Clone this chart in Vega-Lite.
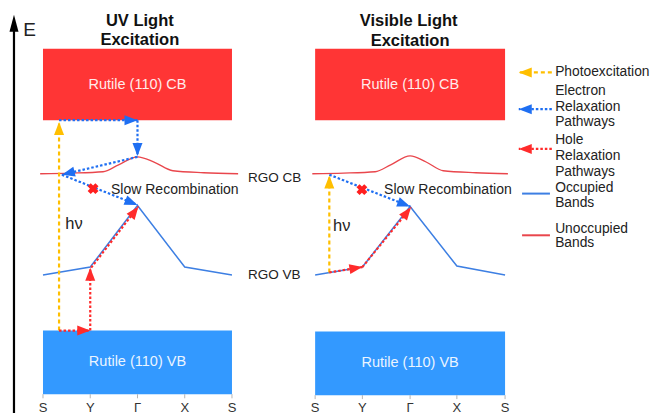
{
  "$schema": "https://vega.github.io/schema/vega-lite/v6.json",
  "width": 652,
  "height": 416,
  "autosize": {"type": "fit", "contains": "padding"},
  "padding": 0,
  "background": "white",
  "config": {"view": {"stroke": null}, "font": "Liberation Sans"},
  "datasets": {
    "bands": [
      {"band": "Rutile (110) CB", "kind": "Conduction band", "k": 0, "k2": 4, "e": 7.375, "e2": 9.175, "kc": 2, "ec": 8.25},
      {"band": "Rutile (110) VB", "kind": "Valence band", "k": 0, "k2": 4, "e": 0.475, "e2": 2.075, "kc": 2, "ec": 1.28},
      {"band": "Rutile (110) CB", "kind": "Conduction band", "k": 5.76, "k2": 9.78, "e": 7.375, "e2": 9.175, "kc": 7.77, "ec": 8.25},
      {"band": "Rutile (110) VB", "kind": "Valence band", "k": 5.76, "k2": 9.78, "e": 0.45, "e2": 2.05, "kc": 7.77, "ec": 1.26}
    ],
    "rgo": [
      {"curve": "CB UV", "kind": "Unoccupied", "k": -0.06, "e": 6.025},
      {"curve": "CB UV", "kind": "Unoccupied", "k": 0.6, "e": 6.04},
      {"curve": "CB UV", "kind": "Unoccupied", "k": 1.27, "e": 6.075},
      {"curve": "CB UV", "kind": "Unoccupied", "k": 1.6, "e": 6.25},
      {"curve": "CB UV", "kind": "Unoccupied", "k": 2.0, "e": 6.45},
      {"curve": "CB UV", "kind": "Unoccupied", "k": 2.35, "e": 6.32},
      {"curve": "CB UV", "kind": "Unoccupied", "k": 2.75, "e": 6.1},
      {"curve": "CB UV", "kind": "Unoccupied", "k": 3.4, "e": 6.05},
      {"curve": "CB UV", "kind": "Unoccupied", "k": 4.13, "e": 6.025},
      {"curve": "CB Vis", "kind": "Unoccupied", "k": 5.7, "e": 6.025},
      {"curve": "CB Vis", "kind": "Unoccupied", "k": 6.36, "e": 6.04},
      {"curve": "CB Vis", "kind": "Unoccupied", "k": 7.03, "e": 6.075},
      {"curve": "CB Vis", "kind": "Unoccupied", "k": 7.36, "e": 6.25},
      {"curve": "CB Vis", "kind": "Unoccupied", "k": 7.77, "e": 6.475},
      {"curve": "CB Vis", "kind": "Unoccupied", "k": 8.11, "e": 6.32},
      {"curve": "CB Vis", "kind": "Unoccupied", "k": 8.47, "e": 6.1},
      {"curve": "CB Vis", "kind": "Unoccupied", "k": 9.16, "e": 6.05},
      {"curve": "CB Vis", "kind": "Unoccupied", "k": 9.84, "e": 6.025},
      {"curve": "VB UV", "kind": "Occupied", "k": 0, "e": 3.475},
      {"curve": "VB UV", "kind": "Occupied", "k": 1, "e": 3.675},
      {"curve": "VB UV", "kind": "Occupied", "k": 2, "e": 5.225},
      {"curve": "VB UV", "kind": "Occupied", "k": 3, "e": 3.675},
      {"curve": "VB UV", "kind": "Occupied", "k": 4, "e": 3.475},
      {"curve": "VB Vis", "kind": "Occupied", "k": 5.76, "e": 3.475},
      {"curve": "VB Vis", "kind": "Occupied", "k": 6.76, "e": 3.675},
      {"curve": "VB Vis", "kind": "Occupied", "k": 7.77, "e": 5.2},
      {"curve": "VB Vis", "kind": "Occupied", "k": 8.76, "e": 3.7},
      {"curve": "VB Vis", "kind": "Occupied", "k": 9.78, "e": 3.475}
    ],
    "pathways": [
      {"panel": "UV", "path": "Photoexcitation", "k": 0.34, "e": 2.075, "k2": 0.34, "e2": 7.33, "heading": 0},
      {"panel": "UV", "path": "Electron relaxation", "k": 0.34, "e": 7.375, "k2": 2.0, "e2": 7.375, "heading": 90},
      {"panel": "UV", "path": "Electron relaxation", "k": 2.0, "e": 7.375, "k2": 2.0, "e2": 6.47, "heading": 180},
      {"panel": "UV", "path": "Electron relaxation", "k": 2.0, "e": 6.45, "k2": 0.4, "e2": 6.0, "heading": 256},
      {"panel": "UV", "path": "Electron relaxation", "k": 0.4, "e": 6.0, "k2": 2.0, "e2": 5.24, "heading": 112},
      {"panel": "UV", "path": "Hole relaxation", "k": 0.34, "e": 2.075, "k2": 1.0, "e2": 2.075, "heading": 90},
      {"panel": "UV", "path": "Hole relaxation", "k": 1.0, "e": 2.075, "k2": 1.0, "e2": 3.66, "heading": 0},
      {"panel": "UV", "path": "Hole relaxation", "k": 1.02, "e": 3.66, "k2": 2.02, "e2": 5.2, "heading": 37},
      {"panel": "Visible", "path": "Photoexcitation", "k": 6.06, "e": 3.54, "k2": 6.06, "e2": 5.98, "heading": 0},
      {"panel": "Visible", "path": "Electron relaxation", "k": 6.06, "e": 6.0, "k2": 7.77, "e2": 5.2, "heading": 111},
      {"panel": "Visible", "path": "Hole relaxation", "k": 6.06, "e": 3.54, "k2": 6.76, "e2": 3.675, "heading": 81},
      {"panel": "Visible", "path": "Hole relaxation", "k": 6.76, "e": 3.675, "k2": 7.79, "e2": 5.18, "heading": 38},
      {"panel": "key", "path": "Photoexcitation", "k": 10.77, "e": 8.575, "k2": 10.07, "e2": 8.575, "heading": 270},
      {"panel": "key", "path": "Electron relaxation", "k": 10.77, "e": 7.65, "k2": 10.07, "e2": 7.65, "heading": 270},
      {"panel": "key", "path": "Hole relaxation", "k": 10.77, "e": 6.65, "k2": 10.07, "e2": 6.65, "heading": 270}
    ],
    "keyLines": [
      {"kind": "Occupied", "k": 10.14, "k2": 10.73, "e": 5.525},
      {"kind": "Unoccupied", "k": 10.14, "k2": 10.73, "e": 4.475}
    ],
    "blocked": [
      {"k": 1.06, "e": 5.65},
      {"k": 6.75, "e": 5.625}
    ],
    "energyAxis": [
      {"k": -0.614, "e": 0, "e2": 9.7, "tip": 10.03}
    ],
    "kpoints": [
      {"label": "S", "k": 0, "e": 0.475, "e2": 0.37, "eLabel": 0.27},
      {"label": "Y", "k": 1, "e": 0.475, "e2": 0.37, "eLabel": 0.27},
      {"label": "Γ", "k": 2, "e": 0.475, "e2": 0.37, "eLabel": 0.27},
      {"label": "X", "k": 3, "e": 0.475, "e2": 0.37, "eLabel": 0.27},
      {"label": "S", "k": 4, "e": 0.475, "e2": 0.37, "eLabel": 0.27},
      {"label": "S", "k": 5.76, "e": 0.45, "e2": 0.35, "eLabel": 0.27},
      {"label": "Y", "k": 6.76, "e": 0.45, "e2": 0.35, "eLabel": 0.27},
      {"label": "Γ", "k": 7.77, "e": 0.45, "e2": 0.35, "eLabel": 0.27},
      {"label": "X", "k": 8.76, "e": 0.45, "e2": 0.35, "eLabel": 0.27},
      {"label": "S", "k": 9.78, "e": 0.45, "e2": 0.35, "eLabel": 0.27}
    ],
    "titles": [
      {"text": "UV Light", "k": 2.05, "e": 9.875},
      {"text": "Excitation", "k": 2.05, "e": 9.4},
      {"text": "Visible Light", "k": 7.74, "e": 9.86},
      {"text": "Excitation", "k": 7.77, "e": 9.375}
    ],
    "notes": [
      {"text": "E", "role": "axis", "k": -0.42, "e": 9.65},
      {"text": "Slow Recombination", "role": "note", "k": 1.44, "e": 5.61},
      {"text": "Slow Recombination", "role": "note", "k": 7.22, "e": 5.61},
      {"text": "hν", "role": "photon", "k": 0.47, "e": 4.75},
      {"text": "hν", "role": "photon", "k": 6.14, "e": 4.7},
      {"text": "RGO CB", "role": "level", "k": 4.34, "e": 5.92},
      {"text": "RGO VB", "role": "level", "k": 4.34, "e": 3.47},
      {"text": "Photoexcitation", "role": "key", "k": 10.84, "e": 8.575},
      {"text": "Electron", "role": "key", "k": 10.84, "e": 8.1},
      {"text": "Relaxation", "role": "key", "k": 10.84, "e": 7.7},
      {"text": "Pathways", "role": "key", "k": 10.84, "e": 7.325},
      {"text": "Hole", "role": "key", "k": 10.84, "e": 6.875},
      {"text": "Relaxation", "role": "key", "k": 10.84, "e": 6.475},
      {"text": "Pathways", "role": "key", "k": 10.84, "e": 6.075},
      {"text": "Occupied", "role": "key", "k": 10.84, "e": 5.675},
      {"text": "Bands", "role": "key", "k": 10.84, "e": 5.3},
      {"text": "Unoccupied", "role": "key", "k": 10.84, "e": 4.625},
      {"text": "Bands", "role": "key", "k": 10.84, "e": 4.275}
    ]
  },
  "encoding": {
    "x": {"field": "k", "type": "quantitative", "scale": {"domain": [-0.91, 12.89], "nice": false, "zero": false}, "axis": null},
    "y": {"field": "e", "type": "quantitative", "scale": {"domain": [0, 10.4], "nice": false, "zero": false}, "axis": null}
  },
  "layer": [
    {
      "data": {"name": "bands"},
      "mark": {"type": "rect"},
      "encoding": {
        "x2": {"field": "k2"},
        "y2": {"field": "e2"},
        "color": {"field": "kind", "type": "nominal", "legend": null,
          "scale": {"domain": ["Conduction band", "Valence band", "Unoccupied", "Occupied", "Photoexcitation", "Electron relaxation", "Hole relaxation"],
                    "range": ["#ff3535", "#3399ff", "#e9464c", "#3d7fe3", "#ffbf00", "#1f6ff2", "#ff2b2b"]}}
      }
    },
    {
      "data": {"name": "bands"},
      "mark": {"type": "text", "fontSize": 14.5, "color": "white", "opacity": 0.9, "align": "center", "baseline": "middle"},
      "encoding": {
        "x": {"field": "kc", "type": "quantitative"},
        "y": {"field": "ec", "type": "quantitative"},
        "text": {"field": "band"}
      }
    },
    {
      "data": {"name": "rgo"},
      "transform": [{"filter": "datum.kind === 'Unoccupied'"}],
      "mark": {"type": "line", "interpolate": "monotone", "strokeWidth": 1.3},
      "encoding": {
        "detail": {"field": "curve"},
        "color": {"field": "kind", "type": "nominal", "legend": null}
      }
    },
    {
      "data": {"name": "rgo"},
      "transform": [{"filter": "datum.kind === 'Occupied'"}],
      "mark": {"type": "line", "strokeWidth": 1.5},
      "encoding": {
        "detail": {"field": "curve"},
        "color": {"field": "kind", "type": "nominal", "legend": null}
      }
    },
    {
      "data": {"name": "keyLines"},
      "mark": {"type": "rule", "strokeWidth": 2},
      "encoding": {
        "x2": {"field": "k2"},
        "color": {"field": "kind", "type": "nominal", "legend": null}
      }
    },
    {
      "data": {"name": "pathways"},
      "mark": {"type": "rule", "strokeWidth": 2.2},
      "encoding": {
        "x2": {"field": "k2"},
        "y2": {"field": "e2"},
        "color": {"field": "path", "type": "nominal", "legend": null},
        "strokeDash": {"field": "path", "type": "nominal", "legend": null,
          "scale": {"domain": ["Photoexcitation", "Electron relaxation", "Hole relaxation"], "range": [[4, 3], [2.5, 2], [2.5, 2]]}}
      }
    },
    {
      "data": {"name": "pathways"},
      "mark": {"type": "point", "shape": "M0,0L0.5,1.3L-0.5,1.3Z", "filled": true, "size": 400, "opacity": 1},
      "encoding": {
        "x": {"field": "k2", "type": "quantitative"},
        "y": {"field": "e2", "type": "quantitative"},
        "angle": {"field": "heading", "type": "quantitative", "scale": null},
        "color": {"field": "path", "type": "nominal", "legend": null}
      }
    },
    {
      "data": {"name": "blocked"},
      "mark": {"type": "point", "shape": "cross", "angle": 45, "filled": true, "size": 120, "color": "#ff1f1f", "opacity": 1}
    },
    {
      "data": {"name": "energyAxis"},
      "mark": {"type": "rule", "strokeWidth": 2.2, "color": "black"},
      "encoding": {"y2": {"field": "e2"}}
    },
    {
      "data": {"name": "energyAxis"},
      "mark": {"type": "point", "shape": "M0,0L0.45,1.7L-0.45,1.7Z", "filled": true, "size": 400, "color": "black", "opacity": 1},
      "encoding": {"y": {"field": "tip", "type": "quantitative"}}
    },
    {
      "data": {"name": "kpoints"},
      "mark": {"type": "rule", "strokeWidth": 1, "color": "#b5b5b5"},
      "encoding": {"y2": {"field": "e2"}}
    },
    {
      "data": {"name": "kpoints"},
      "mark": {"type": "text", "fontSize": 13, "color": "#333333", "align": "center", "baseline": "top"},
      "encoding": {"y": {"field": "eLabel", "type": "quantitative"}, "text": {"field": "label"}}
    },
    {
      "data": {"name": "titles"},
      "mark": {"type": "text", "fontSize": 16.5, "fontWeight": "bold", "color": "#111111", "align": "center", "baseline": "middle"},
      "encoding": {"text": {"field": "text"}}
    },
    {
      "data": {"name": "notes"},
      "transform": [{"filter": "datum.role === 'axis'"}],
      "mark": {"type": "text", "fontSize": 19, "color": "#222222", "align": "left", "baseline": "middle"},
      "encoding": {"text": {"field": "text"}}
    },
    {
      "data": {"name": "notes"},
      "transform": [{"filter": "datum.role === 'note'"}],
      "mark": {"type": "text", "fontSize": 14, "color": "#222222", "align": "left", "baseline": "middle"},
      "encoding": {"text": {"field": "text"}}
    },
    {
      "data": {"name": "notes"},
      "transform": [{"filter": "datum.role === 'photon'"}],
      "mark": {"type": "text", "fontSize": 16.5, "color": "#222222", "align": "left", "baseline": "middle"},
      "encoding": {"text": {"field": "text"}}
    },
    {
      "data": {"name": "notes"},
      "transform": [{"filter": "datum.role === 'level'"}],
      "mark": {"type": "text", "fontSize": 13.5, "color": "#222222", "align": "left", "baseline": "middle"},
      "encoding": {"text": {"field": "text"}}
    },
    {
      "data": {"name": "notes"},
      "transform": [{"filter": "datum.role === 'key'"}],
      "mark": {"type": "text", "fontSize": 13.8, "color": "#222222", "align": "left", "baseline": "middle"},
      "encoding": {"text": {"field": "text"}}
    }
  ]
}
